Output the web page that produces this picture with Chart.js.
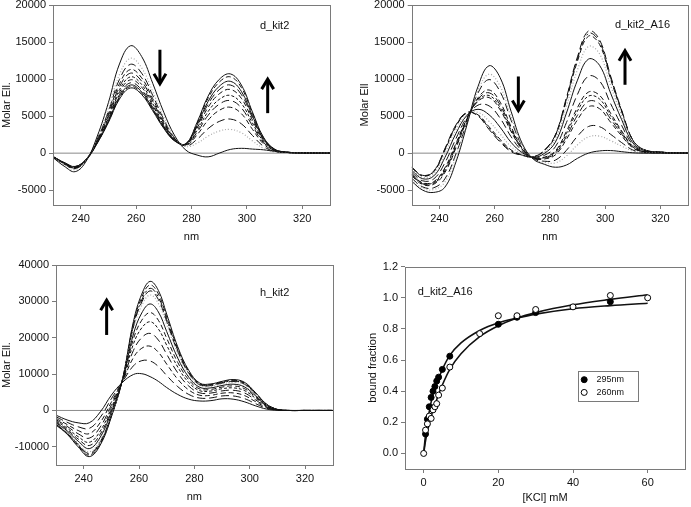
<!DOCTYPE html>
<html>
<head>
<meta charset="utf-8">
<script src="https://cdn.jsdelivr.net/npm/chart.js@4.4.1/dist/chart.umd.min.js"></script>
<style>
  html, body { margin: 0; padding: 0; background: #ffffff; overflow: hidden; }
  #page { position: relative; width: 691px; height: 507px; overflow: hidden; }
  #page canvas { position: absolute; }
</style>
</head>
<body>
<div id="page">
  <canvas id="cdA" width="345" height="260" style="left:0px;top:-10px"></canvas>
  <canvas id="cdB" width="345" height="260" style="left:345px;top:-10px"></canvas>
  <canvas id="cdC" width="345" height="257" style="left:0px;top:250px"></canvas>
  <canvas id="cdD" width="346" height="257" style="left:345px;top:250px"></canvas>
</div>
<script>
/* ---------- data ---------- */
var NM = [230, 234, 238, 242, 246, 250, 254, 258, 262, 266, 270, 274, 278, 282, 286, 290, 294, 298, 302, 306, 310, 314, 320, 330];
var NM_H = [230, 234, 238, 242, 246, 250, 254, 258, 261, 264, 267, 270, 274, 278, 282, 286, 290, 294, 298, 302, 306, 310, 314, 320, 330];
var NM_TICKS = [240, 260, 280, 300, 320];
var ELL_TICKS = [-5000, 0, 5000, 10000, 15000, 20000];
var ELL_TICKS_H = [-10000, 0, 10000, 20000, 30000, 40000];

/* d_kit2 titration spectra */
var D_KIT2 = [
  [-600, -1750, -2500, -1070, 2310, 6820, 12040, 14500, 13050, 9430, 5510, 2320, 400, -250, -500, 0, 500, 650, 550, 450, 250, 100, 0, 0],
  [-550, -1540, -2200, -940, 2040, 6020, 10620, 12800, 11520, 8320, 4860, 2110, 900, 1340, 2300, 2980, 3200, 2750, 1660, 640, 160, 50, 20, 0],
  [-530, -1470, -2100, -900, 1910, 5640, 9960, 12000, 10800, 7800, 4560, 2010, 970, 1870, 3310, 4280, 4600, 3960, 2390, 920, 230, 70, 20, 0],
  [-500, -1400, -2000, -860, 1790, 5310, 9380, 11300, 10170, 7350, 4290, 1930, 1060, 2470, 4460, 5770, 6200, 5330, 3220, 1240, 310, 90, 30, 0],
  [-500, -1400, -2000, -880, 1700, 5080, 8960, 10800, 9720, 7020, 4100, 1870, 1110, 2810, 5110, 6600, 7100, 6110, 3690, 1420, 360, 110, 40, 0],
  [-480, -1330, -1900, -830, 1630, 4840, 8550, 10300, 9270, 6700, 3910, 1800, 1140, 3070, 5620, 7250, 7800, 6710, 4060, 1560, 390, 120, 40, 0],
  [-480, -1330, -1900, -840, 1550, 4650, 8220, 9900, 8910, 6440, 3760, 1760, 1180, 3370, 6190, 8000, 8600, 7400, 4470, 1720, 430, 130, 40, 0],
  [-450, -1260, -1800, -800, 1490, 4470, 7890, 9500, 8550, 6180, 3610, 1700, 1210, 3590, 6620, 8560, 9200, 7910, 4780, 1840, 460, 140, 50, 0],
  [-450, -1260, -1800, -800, 1440, 4320, 7640, 9200, 8280, 5980, 3500, 1670, 1240, 3780, 6980, 9020, 9700, 8340, 5040, 1940, 490, 150, 50, 0],
  [-480, -1330, -1900, -870, 1390, 4230, 7470, 9000, 8100, 5850, 3420, 1650, 1270, 4000, 7420, 9580, 10300, 8860, 5360, 2060, 520, 160, 50, 0],
  [-500, -1400, -2000, -940, 1340, 4140, 7300, 8800, 7920, 5720, 3340, 1620, 1300, 4150, 7700, 9950, 10700, 9200, 5560, 2140, 540, 160, 50, 0]
];

/* d_kit2_A16 titration spectra */
var D_KIT2_A16 = [
  [-3800, -5000, -5300, -4600, -1200, 3800, 9000, 11800, 10200, 5600, 1300, -800, -1500, -1900, -1600, -700, 0, 300, 350, 200, 50, 0, 0, 0],
  [-3550, -4730, -4910, -3910, -540, 4030, 8470, 10660, 9040, 4880, 1090, -760, -1250, -1310, -390, 1120, 2200, 2300, 1690, 950, 280, 70, 20, 0],
  [-3390, -4560, -4670, -3470, -110, 4170, 8130, 9930, 8300, 4420, 950, -740, -1090, -940, 380, 2290, 3600, 3570, 2540, 1420, 430, 110, 30, 0],
  [-3080, -4240, -4200, -2620, 700, 4450, 7480, 8530, 6890, 3550, 690, -690, -780, -230, 1860, 4510, 6270, 6000, 4170, 2330, 720, 190, 60, 0],
  [-2990, -4150, -4070, -2400, 920, 4520, 7300, 8150, 6510, 3310, 620, -670, -690, -30, 2260, 5110, 7000, 6660, 4610, 2570, 790, 210, 60, 0],
  [-2910, -4070, -3950, -2170, 1140, 4590, 7130, 7780, 6140, 3080, 550, -660, -610, 160, 2650, 5700, 7700, 7300, 5040, 2820, 870, 240, 70, 0],
  [-2850, -4000, -3850, -2000, 1300, 4650, 7000, 7500, 5850, 2900, 500, -650, -550, 300, 2950, 6150, 8250, 7800, 5380, 3000, 930, 250, 80, 0],
  [-2600, -3740, -3470, -1320, 1950, 4870, 6480, 6380, 4720, 2200, 290, -610, -300, 870, 4130, 7930, 10400, 9750, 6680, 3730, 1150, 320, 100, 0],
  [-2340, -3460, -3070, -600, 2650, 5110, 5920, 5180, 3500, 1440, 70, -570, -40, 1490, 5410, 9850, 12700, 11850, 8090, 4510, 1400, 390, 120, 0],
  [-2140, -3250, -2770, -60, 3170, 5280, 5510, 4290, 2600, 890, -100, -540, 160, 1940, 6340, 11260, 14400, 13400, 9120, 5090, 1580, 440, 130, 0],
  [-1980, -3080, -2520, 380, 3590, 5430, 5170, 3560, 1870, 430, -230, -510, 320, 2320, 7120, 12420, 15800, 14670, 9980, 5570, 1730, 480, 150, 0],
  [-1940, -3040, -2460, 500, 3700, 5470, 5080, 3370, 1670, 310, -270, -510, 360, 2410, 7320, 12730, 16170, 15000, 10200, 5690, 1770, 490, 150, 0],
  [-1900, -3000, -2400, 600, 3800, 5500, 5000, 3200, 1500, 200, -300, -500, 400, 2500, 7500, 13000, 16500, 15300, 10400, 5800, 1800, 500, 150, 0]
];

/* h_kit2 titration spectra */
var H_KIT2 = [
  [-1300, -2600, -3400, -3400, -400, 4200, 7700, 9900, 10100, 9300, 8000, 6300, 4400, 3100, 2600, 2700, 3200, 3100, 2400, 1300, 400, 50, 0, 0, 0],
  [-1740, -3240, -4480, -4930, -1890, 3220, 7830, 12290, 13690, 13600, 12100, 9610, 6550, 4400, 3400, 3450, 3990, 3990, 3290, 1910, 630, 90, 0, 0, 0],
  [-2160, -3850, -5510, -6380, -3310, 2280, 7960, 14570, 17110, 17680, 16000, 12760, 8590, 5630, 4170, 4170, 4740, 4830, 4130, 2480, 850, 130, 0, 0, 0],
  [-2530, -4370, -6400, -7620, -4530, 1480, 8060, 16530, 20040, 21200, 19350, 15470, 10350, 6690, 4830, 4790, 5380, 5550, 4850, 2980, 1040, 160, 0, 0, 0],
  [-2860, -4850, -7200, -8760, -5640, 740, 8160, 18310, 22710, 24390, 22400, 17940, 11950, 7650, 5420, 5350, 5970, 6210, 5510, 3430, 1210, 190, 0, 0, 0],
  [-3110, -5220, -7840, -9650, -6520, 170, 8240, 19710, 24820, 26910, 24800, 19870, 13200, 8410, 5890, 5790, 6430, 6730, 6030, 3790, 1340, 220, 0, 0, 0],
  [-3360, -5580, -8440, -10500, -7340, -380, 8310, 21040, 26810, 29290, 27080, 21710, 14400, 9130, 6340, 6210, 6860, 7220, 6520, 4120, 1470, 240, 0, 0, 0],
  [-3610, -5940, -9060, -11370, -8200, -940, 8390, 22410, 28870, 31750, 29430, 23610, 15630, 9870, 6800, 6640, 7310, 7730, 7030, 4470, 1600, 260, 0, 0, 0],
  [-3730, -6110, -9340, -11770, -8590, -1200, 8420, 23040, 29810, 32880, 30500, 24480, 16190, 10210, 7010, 6840, 7520, 7960, 7260, 4630, 1660, 280, 0, 0, 0],
  [-3800, -6220, -9520, -12020, -8840, -1360, 8440, 23430, 30400, 33590, 31180, 25030, 16540, 10420, 7140, 6960, 7650, 8110, 7410, 4730, 1700, 280, 0, 0, 0],
  [-3900, -6350, -9750, -12350, -9150, -1570, 8470, 23950, 31170, 34500, 32050, 25730, 17000, 10700, 7310, 7130, 7820, 8300, 7600, 4860, 1750, 290, 0, 0, 0],
  [-4000, -6500, -10000, -12700, -9500, -1800, 8500, 24500, 32000, 35500, 33000, 26500, 17500, 11000, 7500, 7300, 8000, 8500, 7800, 5000, 1800, 300, 0, 0, 0]
];

/* binding: d_kit2_A16 */
var KCL_295 = [0.5, 1, 1.5, 2, 2.5, 3, 3.5, 4, 5, 7, 20, 25, 30, 50];
var FRAC_295 = [0.125, 0.22, 0.30, 0.36, 0.40, 0.43, 0.465, 0.49, 0.54, 0.625, 0.83, 0.875, 0.905, 0.975];
var KCL_260 = [0, 0.5, 1, 1.5, 2, 2.5, 3, 3.5, 4, 5, 7, 15, 20, 25, 30, 40, 50, 60];
var FRAC_260 = [0, 0.15, 0.19, 0.24, 0.225, 0.28, 0.30, 0.32, 0.375, 0.42, 0.555, 0.77, 0.885, 0.885, 0.925, 0.942, 1.015, 1.0];
var FIT_KCL = [0, 0.5, 1, 2, 3, 4, 5, 7, 10, 15, 20, 25, 30, 40, 50, 60];
var FIT_295 = [0, 0.12, 0.2, 0.33, 0.42, 0.48, 0.54, 0.63, 0.71, 0.79, 0.84, 0.87, 0.895, 0.93, 0.95, 0.965];
var FIT_260 = [0, 0.08, 0.14, 0.24, 0.31, 0.38, 0.44, 0.54, 0.64, 0.75, 0.82, 0.87, 0.905, 0.955, 0.99, 1.02];
var KCL_TICKS = [0, 20, 40, 60];
var FRAC_TICKS = [0, 0.2, 0.4, 0.6, 0.8, 1.0, 1.2];
var SERIES_NAMES = ["295nm", "260nm"];

(function () {
  var FONT = '"Liberation Sans", Arial, sans-serif';
  var INK = "#111111";
  var FRAME = "#7a7a7a";
  var DASH = { S: [], L: [8, 4], M: [5, 3], D: [3, 2], DD: [8, 3, 2, 3], O: [1, 2] };

  Chart.defaults.font.family = FONT;
  Chart.defaults.color = INK;

  function pairs(xs, ys) {
    return xs.map(function (x, i) { return { x: x, y: ys[i] }; });
  }

  function fixTicks(list) {
    return function (scale) {
      scale.ticks = list.map(function (v) { return { value: v }; });
    };
  }

  /* ---------- frame, arrows, labels, legend ---------- */
  var decor = {
    id: "decor",
    afterDatasetsDraw: function (chart, args, opts) {
      var ctx = chart.ctx;
      var a = chart.chartArea;
      var xs = chart.scales.x;
      var ys = chart.scales.y;
      ctx.save();

      ctx.strokeStyle = FRAME;
      ctx.lineWidth = 1;
      ctx.strokeRect(Math.round(a.left) + 0.5, Math.round(a.top) + 0.5,
        Math.round(a.right - a.left), Math.round(a.bottom - a.top));

      (opts.arrows || []).forEach(function (ar) {
        var x = xs.getPixelForValue(ar[0]);
        var y0 = ys.getPixelForValue(ar[1]);
        var y1 = ys.getPixelForValue(ar[2]);
        var dir = y1 < y0 ? 1 : -1;
        ctx.strokeStyle = "#000000";
        ctx.lineWidth = 3;
        ctx.lineJoin = "miter";
        ctx.beginPath();
        ctx.moveTo(x, y0);
        ctx.lineTo(x, y1 + dir * 1.5);
        ctx.stroke();
        ctx.beginPath();
        ctx.moveTo(x - 6, y1 + dir * 11);
        ctx.lineTo(x, y1 + dir * 1);
        ctx.lineTo(x + 6, y1 + dir * 11);
        ctx.stroke();
      });

      if (opts.label) {
        ctx.fillStyle = INK;
        ctx.font = "11px " + FONT;
        ctx.textAlign = "left";
        ctx.textBaseline = "middle";
        ctx.fillText(opts.label.text, xs.getPixelForValue(opts.label.x), ys.getPixelForValue(opts.label.y));
      }

      if (opts.legend) {
        var lg = opts.legend;
        var bx0 = Math.round(xs.getPixelForValue(lg.box[0])) + 0.5;
        var bx1 = Math.round(xs.getPixelForValue(lg.box[1])) + 0.5;
        var by0 = Math.round(ys.getPixelForValue(lg.box[2])) + 0.5;
        var by1 = Math.round(ys.getPixelForValue(lg.box[3])) + 0.5;
        ctx.strokeStyle = FRAME;
        ctx.lineWidth = 1;
        ctx.strokeRect(bx0, by0, bx1 - bx0, by1 - by0);
        lg.rows.forEach(function (r) {
          var ds = chart.data.datasets[r.dataset];
          var mx = xs.getPixelForValue(lg.markX);
          var my = ys.getPixelForValue(r.y);
          ctx.beginPath();
          ctx.arc(mx, my, 3, 0, Math.PI * 2);
          ctx.fillStyle = ds.pointBackgroundColor;
          ctx.fill();
          ctx.strokeStyle = "#000000";
          ctx.lineWidth = 1;
          ctx.stroke();
          ctx.fillStyle = INK;
          ctx.font = "9px " + FONT;
          ctx.textAlign = "left";
          ctx.textBaseline = "middle";
          ctx.fillText(ds.label, xs.getPixelForValue(lg.textX), my);
        });
      }
      ctx.restore();
    }
  };

  function axis(o) {
    return {
      type: "linear",
      min: o.min,
      max: o.max,
      afterBuildTicks: fixTicks(o.ticks),
      afterFit: o.fit,
      grid: { drawOnChartArea: false, drawTicks: true, tickLength: 4, color: FRAME },
      border: { display: false },
      ticks: { color: INK, padding: 3, font: { size: 11 }, callback: o.fmt },
      title: { display: true, text: o.title, color: INK, font: { size: 11 }, padding: o.titlePad }
    };
  }

  function plain(v) { return String(v); }

  /* ---------- CD spectra panel ---------- */
  function spectrum(id, grid, rows, styles, view) {
    var datasets = rows.map(function (vals, i) {
      var st = styles[i];
      return {
        data: pairs(grid, vals),
        borderColor: st === "O" ? "#a8a8a8" : "#111111",
        borderWidth: st === "O" ? 1.2 : 1,
        borderDash: DASH[st],
        pointRadius: 0,
        tension: 0.4,
        fill: false
      };
    });
    datasets.push({
      data: pairs([230, 330], [0, 0]),
      borderColor: "#8a8a8a",
      borderWidth: 1,
      pointRadius: 0,
      order: 5
    });

    new Chart(document.getElementById(id), {
      type: "line",
      data: { datasets: datasets },
      options: {
        responsive: false,
        animation: false,
        devicePixelRatio: 1,
        layout: { padding: view.pad },
        scales: {
          x: axis({ min: 230, max: 330, ticks: NM_TICKS, fmt: plain, title: "nm",
            titlePad: { top: 0, bottom: view.xTitlePad },
            fit: function (s) { s.height = view.xH; } }),
          y: axis({ min: view.yMin, max: view.yMax, ticks: view.yTicks, fmt: plain, title: view.yTitle,
            titlePad: { top: view.yTitlePad, bottom: 0 },
            fit: function (s) { s.width = view.yW; } })
        },
        plugins: {
          legend: { display: false },
          tooltip: { enabled: false },
          decor: { arrows: view.arrows, label: view.label }
        }
      },
      plugins: [decor]
    });
  }

  /* ---------- binding panel ---------- */
  function binding(id) {
    new Chart(document.getElementById(id), {
      type: "line",
      data: {
        datasets: [
          { data: pairs(FIT_KCL, FIT_295), borderColor: "#111111", borderWidth: 1.6, pointRadius: 0,
            cubicInterpolationMode: "monotone", order: 4 },
          { data: pairs(FIT_KCL, FIT_260), borderColor: "#111111", borderWidth: 1.6, pointRadius: 0,
            cubicInterpolationMode: "monotone", order: 4 },
          { label: SERIES_NAMES[0], data: pairs(KCL_295, FRAC_295), showLine: false, pointRadius: 3,
            pointBackgroundColor: "#000000", pointBorderColor: "#000000", pointBorderWidth: 1, order: 2 },
          { label: SERIES_NAMES[1], data: pairs(KCL_260, FRAC_260), showLine: false, pointRadius: 3,
            pointBackgroundColor: "#ffffff", pointBorderColor: "#000000", pointBorderWidth: 1, order: 1 }
        ]
      },
      options: {
        responsive: false,
        animation: false,
        devicePixelRatio: 1,
        layout: { padding: { top: 16.7, right: 6, left: 0, bottom: 0 } },
        scales: {
          x: axis({ min: -5, max: 70, ticks: KCL_TICKS, fmt: plain, title: "[KCl] mM",
            titlePad: { top: 0, bottom: 2 },
            fit: function (s) { s.height = 38; } }),
          y: axis({ min: -0.1, max: 1.2, ticks: FRAC_TICKS, title: "bound fraction",
            fmt: function (v) { return Number(v).toFixed(1); },
            titlePad: { top: 21.5, bottom: 0 },
            fit: function (s) { s.width = 60; } })
        },
        plugins: {
          legend: { display: false },
          tooltip: { enabled: false },
          decor: {
            label: { text: "d_kit2_A16", x: -1.6, y: 1.04 },
            legend: {
              box: [41.4, 57.5, 0.529, 0.335],
              markX: 43,
              textX: 46.3,
              rows: [{ dataset: 2, y: 0.474 }, { dataset: 3, y: 0.392 }]
            }
          }
        }
      },
      plugins: [decor]
    });
  }

  function init() {
    spectrum("cdA", NM, D_KIT2, ["S", "O", "L", "M", "L", "D", "M", "L", "S", "M", "S"], {
      pad: { top: 15, right: 15, left: 0, bottom: 0 }, xH: 45, yW: 53,
      xTitlePad: 6.4, yTitlePad: 0.4,
      yMin: -7000, yMax: 20000, yTicks: ELL_TICKS, yTitle: "Molar Ell.",
      arrows: [[268.6, 13960, 9230], [307.5, 5400, 10130]],
      label: { text: "d_kit2", x: 304.7, y: 17200 }
    });
    spectrum("cdB", NM, D_KIT2_A16, ["S", "O", "L", "M", "L", "D", "M", "L", "S", "O", "M", "DD", "L"], {
      pad: { top: 15, right: 2, left: 0, bottom: 0 }, xH: 45, yW: 66.7,
      xTitlePad: 6.4, yTitlePad: 13.4,
      yMin: -7000, yMax: 20000, yTicks: ELL_TICKS, yTitle: "Molar Ell",
      arrows: [[268.6, 10350, 5620], [307.2, 9230, 13960]],
      label: { text: "d_kit2_A16", x: 303.6, y: 17340 }
    });
    spectrum("cdC", NM_H, H_KIT2, ["S", "L", "M", "L", "D", "M", "S", "O", "L", "DD", "M", "S"], {
      pad: { top: 15, right: 12.3, left: 0, bottom: 0 }, xH: 42, yW: 56,
      xTitlePad: 3.7, yTitlePad: 0,
      yMin: -15000, yMax: 40000, yTicks: ELL_TICKS_H, yTitle: "Molar Ell.",
      arrows: [[248.3, 20760, 30580]],
      label: { text: "h_kit2", x: 303.7, y: 32230 }
    });
    binding("cdD");
  }

  if (document.readyState === "loading") {
    document.addEventListener("DOMContentLoaded", init);
  } else {
    init();
  }
})();
</script>
</body>
</html>
